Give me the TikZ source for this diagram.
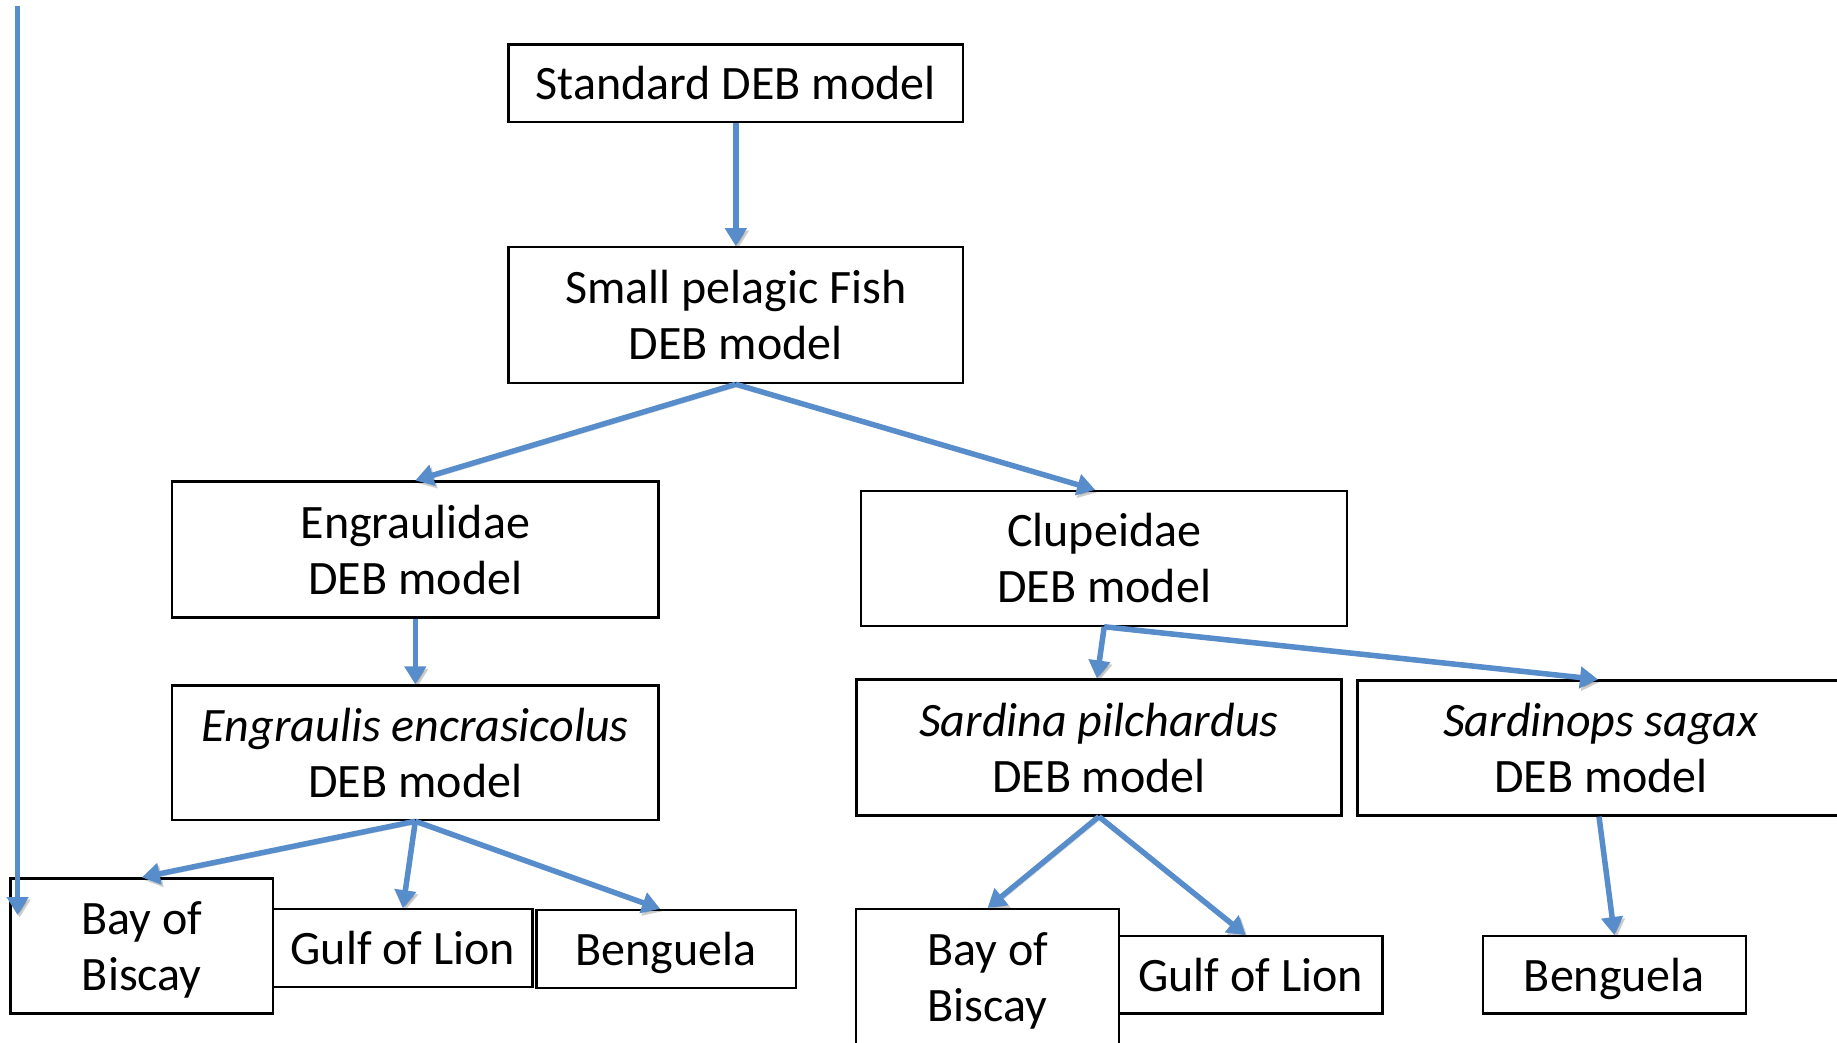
\documentclass[tikz,border=0pt]{standalone}
\usepackage{fontspec}
\setmainfont{Carlito}
\usetikzlibrary{arrows.meta}
\definecolor{flowblue}{RGB}{88,141,203}
\tikzset{
  box/.style={draw=black, line width=2.2pt, inner sep=0pt, align=center,
    text depth=-10pt, font=\fontsize{48}{56}\selectfont},
  flow/.style={draw=flowblue, line width=5.5pt,
    -{Triangle[length=18pt,width=21pt]},
    preaction={draw=black, opacity=0.2,
      transform canvas={shift={(2pt,-2.5pt)}}}}
}
\begin{document}
\begin{tikzpicture}[x=1pt,y=-1pt]
\useasboundingbox (0,0) rectangle (1837,1042);
\clip (0,0) rectangle (1837,1042);
\fill[white] (0,0) rectangle (1837,1042);

% model hierarchy
\node[box, minimum width=454.5pt, minimum height=77.3pt] (std) at (735.8,83.2) {Standard DEB model};
\node[box, minimum width=454.5pt, minimum height=135.9pt] (spf) at (735.8,315.2) {Small pelagic Fish\\DEB model};
\node[box, minimum width=486.2pt, minimum height=135.9pt] (eng) at (415.3,549.5) {Engraulidae\\DEB model};
\node[box, minimum width=486.2pt, minimum height=134.7pt] (clu) at (1104.2,558.3) {Clupeidae\\DEB model};
\node[box, minimum width=486.2pt, minimum height=134.7pt] (engr) at (415.3,752.8) {\textit{Engraulis encrasicolus}\\DEB model};
\node[box, minimum width=485pt, minimum height=135.9pt] (sard) at (1098.9,747.5) {\textit{Sardina pilchardus}\\DEB model};
\node[box, minimum width=487pt, minimum height=135pt] (sgx) at (1601,748) {\textit{Sardinops sagax}\\DEB model};

% regional applications
\node[box, minimum width=262.5pt, minimum height=135pt] (bob1) at (141.8,946) {Bay of\\Biscay};
\node[box, minimum width=259.5pt, minimum height=77.4pt] (gol1) at (402.8,948) {Gulf of Lion};
\node[box, minimum width=259.2pt, minimum height=77.7pt] (ben1) at (666.1,948.8) {Benguela};
\node[box, minimum width=262.5pt, minimum height=135pt] (bob2) at (987.6,976.6) {Bay of\\Biscay};
\node[box, minimum width=263.6pt, minimum height=77.3pt] (gol2) at (1250.7,974.8) {Gulf of Lion};
\node[box, minimum width=262.4pt, minimum height=77.3pt] (ben2) at (1614.4,974.8) {Benguela};

% long arrow along the left margin
\coordinate (ltop) at (17.6,6);
\coordinate (lbot) at (17.6,915);

% connectors
\draw[flow] (std.south) -- (spf.north);
\draw[flow] (spf.south) -- (eng.north);
\draw[flow] (spf.south) -- ([xshift=-9pt]clu.north);
\draw[flow] (eng.south) -- (engr.north);
\draw[flow] (clu.south) -- ([xshift=-2pt]sard.north);
\draw[flow] (clu.south) -- ([xshift=-3pt]sgx.north);
\draw[flow] (engr.south) -- (bob1.north);
\draw[flow] (engr.south) -- (gol1.north);
\draw[flow] (engr.south) -- ([xshift=-6pt]ben1.north);
\draw[flow] (sard.south) -- (bob2.north);
\draw[flow] (sard.south) -- ([xshift=-5pt]gol2.north);
\draw[flow] ([xshift=-2pt]sgx.south) -- (ben2.north);
\draw[flow] (ltop) -- (lbot);
\end{tikzpicture}
\end{document}
